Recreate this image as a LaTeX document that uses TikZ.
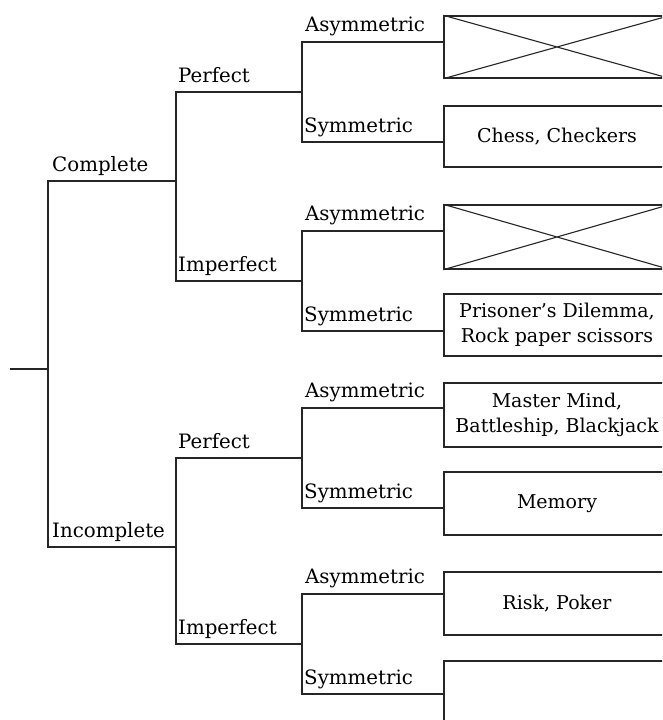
\documentclass[tikz,border=0pt]{standalone}
\usepackage{fontspec}
\setmainfont{DejaVu Serif}
\begin{document}
\begin{tikzpicture}[x=1pt,y=-1pt,
  line/.style={line width=1.4pt, draw=black!85},
  lbl/.style={anchor=base west, inner sep=0pt, font=\fontsize{19.8}{25}\selectfont},
  gbox/.style={draw=black!85, line width=1.4pt, fill=white, minimum width=226pt, minimum height=63pt, inner sep=0pt, align=center, font=\fontsize{19}{25}\selectfont}]
\path[use as bounding box, clip] (0,0) rectangle (662,720);

% boxes
\node[gbox, minimum height=62pt] (b1) at (557,47) {};
\node[gbox, minimum height=61pt] (b2) at (557,136.5) {Chess, Checkers};
\node[gbox, minimum height=64pt] (b3) at (557,237) {};
\node[gbox, minimum height=62pt] (b4) at (557,325) {Prisoner’s Dilemma,\\Rock paper scissors};
\node[gbox, minimum height=64pt] (b5) at (557,415) {Master Mind,\\Battleship, Blackjack};
\node[gbox, minimum height=63pt] (b6) at (557,503.5) {Memory};
\node[gbox, minimum height=63pt] (b7) at (557,603.5) {Risk, Poker};
\node[gbox, minimum height=62pt] (b8) at (557,692) {};
\foreach \b in {b1,b3}{
  \draw[line width=1.1pt, draw=black!85] (\b.north west) -- (\b.south east) (\b.south west) -- (\b.north east);
}

% junctions
\coordinate (root) at (10,369);
\coordinate (j0) at (48,369);
\coordinate (cC) at (176,181);
\coordinate (cI) at (176,547);
\coordinate (cCP) at (302,92);
\coordinate (cCI) at (302,281);
\coordinate (cIP) at (302,458);
\coordinate (cII) at (302,644);
\coordinate (a1) at (302,42);
\coordinate (s1) at (302,142);
\coordinate (a2) at (302,231);
\coordinate (s2) at (302,331);
\coordinate (a3) at (302,408);
\coordinate (s3) at (302,508);
\coordinate (a4) at (302,594);
\coordinate (s4) at (302,694);

\draw[line] (root) -- (j0);
\draw[line] (j0) |- (cC);
\draw[line] (j0) |- (cI);
\draw[line] (cC) |- (cCP);
\draw[line] (cC) |- (cCI);
\draw[line] (cI) |- (cIP);
\draw[line] (cI) |- (cII);
\draw[line] (cCP) -- (a1) -- (a1 -| b1.west);
\draw[line] (cCP) -- (s1) -- (s1 -| b2.west);
\draw[line] (cCI) -- (a2) -- (a2 -| b3.west);
\draw[line] (cCI) -- (s2) -- (s2 -| b4.west);
\draw[line] (cIP) -- (a3) -- (a3 -| b5.west);
\draw[line] (cIP) -- (s3) -- (s3 -| b6.west);
\draw[line] (cII) -- (a4) -- (a4 -| b7.west);
\draw[line] (cII) -- (s4) -- (s4 -| b8.west);

% labels
\node[lbl] (lC) at (52,171) {Complete};
\node[lbl] (lI) at (52,537) {Incomplete};
\node[lbl] (lCP) at (178,82) {Perfect};
\node[lbl] (lCI) at (178,271) {Imperfect};
\node[lbl] (lIP) at (178,448) {Perfect};
\node[lbl] (lII) at (178,634) {Imperfect};
\node[lbl] (la1) at (305,31) {Asymmetric};
\node[lbl] (ls1) at (304,132) {Symmetric};
\node[lbl] (la2) at (305,220) {Asymmetric};
\node[lbl] (ls2) at (304,321) {Symmetric};
\node[lbl] (la3) at (305,397) {Asymmetric};
\node[lbl] (ls3) at (304,498) {Symmetric};
\node[lbl] (la4) at (305,583) {Asymmetric};
\node[lbl] (ls4) at (304,684) {Symmetric};
\end{tikzpicture}
\end{document}
